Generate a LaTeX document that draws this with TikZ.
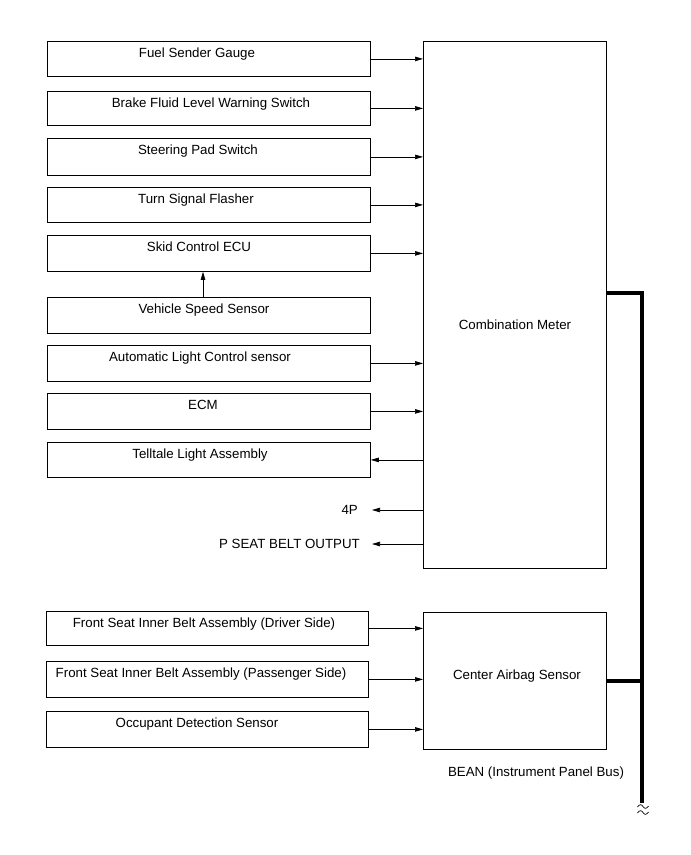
\documentclass[tikz,border=0pt]{standalone}
\usepackage{fontspec}
\setmainfont{Liberation Sans}
\usetikzlibrary{arrows.meta}
\begin{document}
\begin{tikzpicture}[x=1pt,y=-1pt,
  box/.style={draw=black,line width=0.8pt,inner sep=0pt,anchor=north west},
  lbl/.style={inner sep=0pt,anchor=base,font=\fontsize{13.3}{15}\selectfont},
  txt/.style={inner sep=0pt,font=\fontsize{13.3}{15}\selectfont},
  arr/.style={line width=0.7pt,-{Triangle[length=8pt,width=4.5pt]}},
  bus/.style={line width=3.5pt}]
\useasboundingbox (0,0) rectangle (691,855);
% left boxes (top row)
\node[box,minimum width=323pt,minimum height=35pt] (fuel)  at (47,41)  {};
\node[box,minimum width=323pt,minimum height=34pt] (brake) at (47,91)  {};
\node[box,minimum width=323pt,minimum height=37pt] (steer) at (47,138) {};
\node[box,minimum width=323pt,minimum height=35pt] (turn)  at (47,187) {};
\node[box,minimum width=323pt,minimum height=36pt] (skid)  at (47,235) {};
\node[box,minimum width=323pt,minimum height=36pt] (vss)   at (47,297) {};
\node[box,minimum width=323pt,minimum height=36pt] (alc)   at (47,345) {};
\node[box,minimum width=323pt,minimum height=36pt] (ecm)   at (47,393) {};
\node[box,minimum width=323pt,minimum height=35pt] (tell)  at (47,442) {};
% left boxes (bottom group)
\node[box,minimum width=322pt,minimum height=34pt] (drv)   at (46,611) {};
\node[box,minimum width=322pt,minimum height=36pt] (pas)   at (46,661) {};
\node[box,minimum width=322pt,minimum height=36pt] (occ)   at (46,711) {};
% labels
\node[lbl] (fuelT)  at (197,57.5)  {Fuel Sender Gauge};
\node[lbl] (brakeT) at (211,107.5) {Brake Fluid Level Warning Switch};
\node[lbl] (steerT) at (198,154.5) {Steering Pad Switch};
\node[lbl] (turnT)  at (196,203.5) {Turn Signal Flasher};
\node[lbl] (skidT)  at (199,251.5) {Skid Control ECU};
\node[lbl] (vssT)   at (204,313.5) {Vehicle Speed Sensor};
\node[lbl] (alcT)   at (200,361.5) {Automatic Light Control sensor};
\node[lbl] (ecmT)   at (203,409.5) {ECM};
\node[lbl] (tellT)  at (200,458.5) {Telltale Light Assembly};
\node[lbl] (drvT)   at (204,627.5) {Front Seat Inner Belt Assembly (Driver Side)};
\node[lbl] (pasT)   at (201,677.5) {Front Seat Inner Belt Assembly (Passenger Side)};
\node[lbl] (occT)   at (197,727.5) {Occupant Detection Sensor};
% main boxes
\node[box,minimum width=183pt,minimum height=527pt] (cm)  at (423,41)  {};
\node[txt] (cmT) at (515,325) {Combination Meter};
\node[box,minimum width=183pt,minimum height=137pt] (cas) at (423,612) {};
\node[txt] (casT) at (517,676) {Center Airbag Sensor};
% arrows into combination meter
\foreach \n in {fuel,brake,steer,turn,skid,alc,ecm}
  \draw[arr] (\n.east) -- (\n.east -| cm.west);
\draw[arr] (tell.east -| cm.west) -- (tell.east);
\draw[arr] (vss.north -| 203,0) -- (skid.south -| 203,0);
% outputs
\node[txt,anchor=east] (p4) at (358,510) {4P};
\node[txt,anchor=east] (psb) at (360,544) {P SEAT BELT OUTPUT};
\draw[arr] (p4.east -| cm.west) -- ([xshift=14pt]p4.east);
\draw[arr] (psb.east -| cm.west) -- ([xshift=12pt]psb.east);
% arrows into airbag sensor
\foreach \n in {drv,pas,occ}
  \draw[arr] (\n.east) -- (\n.east -| cas.west);
% bus
\coordinate (b1) at (642,293);
\coordinate (b2) at (642,803);
\draw[bus] (cm.east |- b1) -- (b1) -- (b2);
\draw[bus] (cas.east) -- (cas.east -| b1);
\node[txt] (bean) at (536,773) {BEAN (Instrument Panel Bus)};
% break marks
\draw[line width=0.7pt] (637.5,807) .. controls (639.5,804) and (641.5,804) .. (643,806.5) .. controls (644.5,809) and (646.5,809) .. (648.5,806);
\draw[line width=0.7pt] (637.5,813) .. controls (639.5,810) and (641.5,810) .. (643,812.5) .. controls (644.5,815) and (646.5,815) .. (648.5,812);
\end{tikzpicture}
\end{document}
